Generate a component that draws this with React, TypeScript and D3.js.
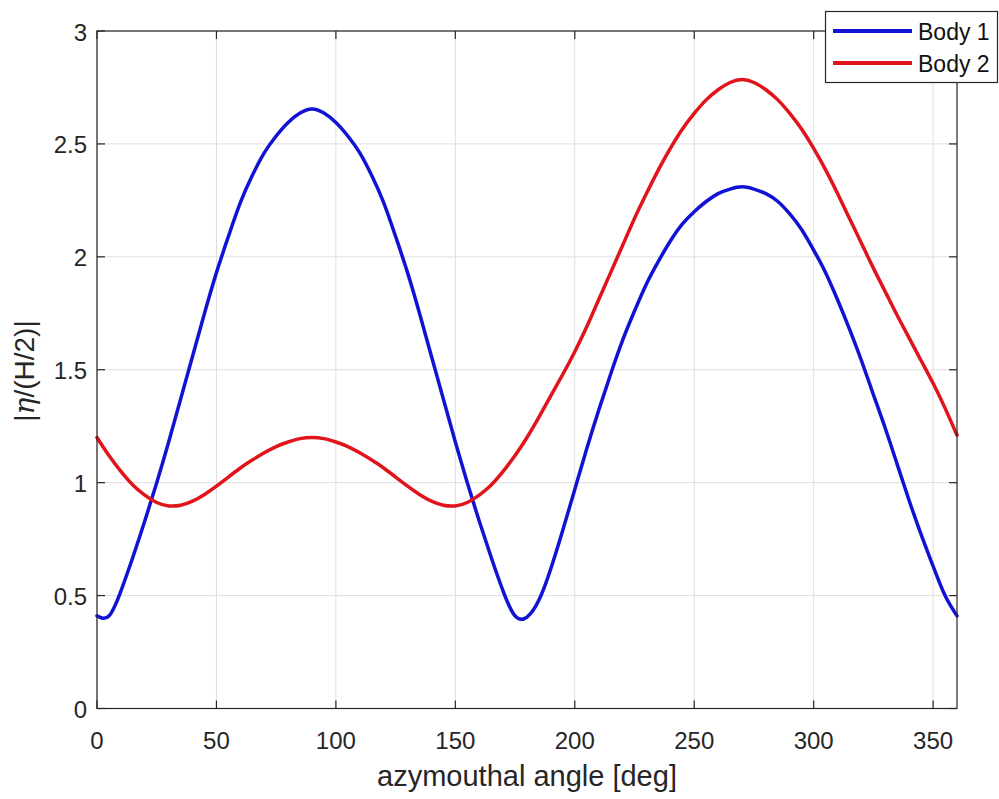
import React from "react";
import * as d3 from "d3";

const angles: number[] = d3.range(0, 361, 5);

const body1: number[] = [
  0.41, 0.41, 0.52, 0.67, 0.83, 1.0, 1.18, 1.37, 1.56, 1.75, 1.93, 2.09, 2.24, 2.36, 2.46, 2.535, 2.595, 2.637, 2.655,
  2.637, 2.595, 2.535, 2.46, 2.36, 2.24, 2.09, 1.93, 1.75, 1.56, 1.37, 1.18, 1.0, 0.83, 0.67, 0.52, 0.41, 0.405,
  0.48, 0.62, 0.79, 0.97, 1.15, 1.32, 1.48, 1.63, 1.76, 1.88, 1.98, 2.07, 2.145, 2.2, 2.245, 2.28, 2.3, 2.31,
  2.3, 2.28, 2.245, 2.19, 2.12, 2.03, 1.93, 1.81, 1.68, 1.54, 1.39, 1.24, 1.08, 0.92, 0.77, 0.63, 0.5, 0.41,
];

const body2: number[] = [
  1.2, 1.12, 1.05, 0.99, 0.945, 0.912, 0.897, 0.9, 0.918, 0.948, 0.985, 1.025, 1.065, 1.1, 1.132, 1.16, 1.18, 1.195, 1.2,
  1.195, 1.18, 1.16, 1.132, 1.1, 1.065, 1.025, 0.985, 0.948, 0.918, 0.9, 0.897, 0.912, 0.945, 0.99, 1.05, 1.12, 1.2,
  1.29, 1.385, 1.48, 1.58, 1.69, 1.81, 1.93, 2.05, 2.17, 2.28, 2.385, 2.48, 2.565, 2.635, 2.695, 2.74, 2.772, 2.785,
  2.772, 2.74, 2.695, 2.635, 2.565, 2.48, 2.385, 2.28, 2.17, 2.06, 1.95, 1.845, 1.74, 1.64, 1.54, 1.44, 1.33, 1.21,
];

const xTicks: number[] = [0, 50, 100, 150, 200, 250, 300, 350];
const yTicks: number[] = [0, 0.5, 1, 1.5, 2, 2.5, 3];
const seriesNames: string[] = ["Body 1", "Body 2"];
const seriesColors: string[] = ["#1212d4", "#e0141a"];

export default function App() {
  const W = 999;
  const H = 799;
  const left = 97;
  const right = 957;
  const top = 31;
  const bottom = 708.5;
  const x = d3.scaleLinear().domain([0, 360]).range([left, right]);
  const y = d3.scaleLinear().domain([0, 3]).range([bottom, top]);
  const axisColor = "#262626";
  const font = "Arial, 'Liberation Sans', Helvetica, sans-serif";
  const tickLen = 8;

  const line = d3
    .line<number>()
    .x((_, i) => x(angles[i]))
    .y((d) => y(d))
    .curve(d3.curveNatural);

  const series = [body1, body2];

  return (
    <svg
      width={W}
      height={H}
      style={{ position: "absolute", left: 0, top: 0, background: "#fff" }}
      xmlns="http://www.w3.org/2000/svg"
    >
      <rect x={0} y={0} width={W} height={H} fill="#fff" />
      {xTicks.map((t) => (
        <line key={"gx" + t} x1={x(t)} x2={x(t)} y1={top} y2={bottom} stroke="#dedede" strokeWidth={1} />
      ))}
      {yTicks.map((t) => (
        <line key={"gy" + t} x1={left} x2={right} y1={y(t)} y2={y(t)} stroke="#dedede" strokeWidth={1} />
      ))}
      {series.map((s, i) => (
        <path
          key={"s" + i}
          d={line(s) || ""}
          fill="none"
          stroke={seriesColors[i]}
          strokeWidth={3.5}
          strokeLinejoin="round"
          strokeLinecap="round"
        />
      ))}
      <rect x={left} y={top} width={right - left} height={bottom - top} fill="none" stroke={axisColor} strokeWidth={1.2} />
      {xTicks.map((t) => (
        <g key={"tx" + t}>
          <line x1={x(t)} x2={x(t)} y1={bottom} y2={bottom - tickLen} stroke={axisColor} strokeWidth={1.2} />
          <line x1={x(t)} x2={x(t)} y1={top} y2={top + tickLen} stroke={axisColor} strokeWidth={1.2} />
          <text x={x(t)} y={740} textAnchor="middle" dominantBaseline="central" fontFamily={font} fontSize={24} fill={axisColor}>
            {t}
          </text>
        </g>
      ))}
      {yTicks.map((t) => (
        <g key={"ty" + t}>
          <line x1={left} x2={left + tickLen} y1={y(t)} y2={y(t)} stroke={axisColor} strokeWidth={1.2} />
          <line x1={right} x2={right - tickLen} y1={y(t)} y2={y(t)} stroke={axisColor} strokeWidth={1.2} />
          <text x={87} y={y(t) + 1} textAnchor="end" dominantBaseline="central" fontFamily={font} fontSize={24} fill={axisColor}>
            {t}
          </text>
        </g>
      ))}
      <text x={(left + right) / 2} y={776} textAnchor="middle" dominantBaseline="central" fontFamily={font} fontSize={29} fill={axisColor}>
        azymouthal angle [deg]
      </text>
      <text
        transform={`translate(24, ${371}) rotate(-90)`}
        textAnchor="middle"
        dominantBaseline="central"
        fontFamily={font}
        fontSize={28}
        fill={axisColor}
      >
        |<tspan fontStyle="italic" fontFamily="'DejaVu Serif', serif">η</tspan>/(H/2)|
      </text>
      <rect x={825.5} y={11.5} width={172} height={71} fill="#fff" stroke={axisColor} strokeWidth={1.2} />
      {seriesNames.map((n, i) => (
        <g key={"lg" + i}>
          <line x1={833} x2={912} y1={31 + i * 32} y2={31 + i * 32} stroke={seriesColors[i]} strokeWidth={4} />
          <text x={918} y={32 + i * 32} dominantBaseline="central" fontFamily={font} fontSize={23} fill="#111">
            {n}
          </text>
        </g>
      ))}
    </svg>
  );
}
